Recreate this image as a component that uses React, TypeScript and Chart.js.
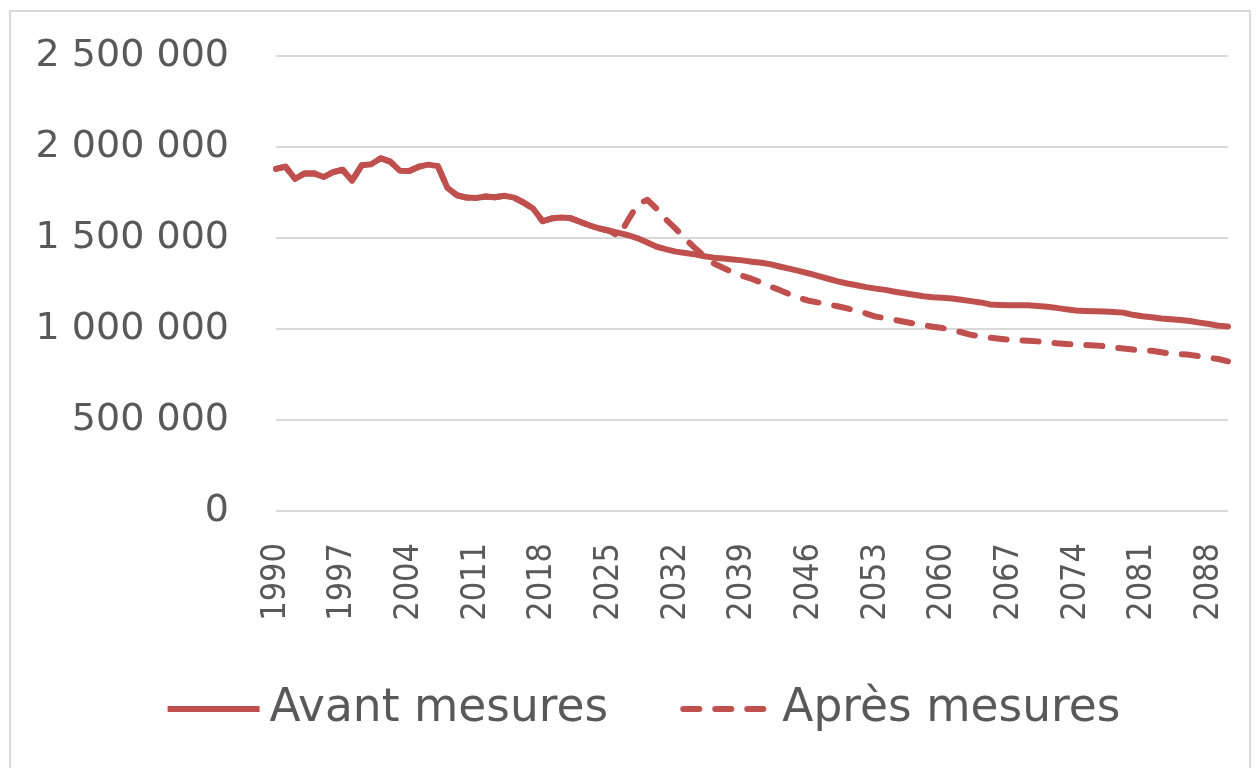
import React, { useEffect, useRef } from 'react';
import { Chart, registerables } from 'chart.js';

Chart.register(...registerables);

const years: string[] = Array.from({ length: 101 }, (_, i) => String(1990 + i));

const xTickLabels = ['1990', '1997', '2004', '2011', '2018', '2025', '2032', '2039', '2046', '2053', '2060', '2067', '2074', '2081', '2088'];

const yMin = 0;
const yMax = 2500000;
const yStep = 500000;

const seriesNames = ['Avant mesures', 'Après mesures'];

// 1990 - 2090
const avantMesures = [
  1880000, 1892000, 1825000, 1855000, 1855000, 1835000, 1862000, 1875000, 1815000, 1900000,
  1905000, 1938000, 1920000, 1870000, 1868000, 1892000, 1903000, 1895000, 1776000, 1735000,
  1722000, 1720000, 1728000, 1724000, 1732000, 1722000, 1695000, 1662000, 1592000, 1608000,
  1612000, 1608000, 1588000, 1568000, 1552000, 1540000, 1528000, 1515000, 1498000, 1475000,
  1452000, 1438000, 1425000, 1418000, 1410000, 1400000, 1392000, 1387000, 1382000, 1377000,
  1370000, 1364000, 1355000, 1342000, 1330000, 1318000, 1305000, 1290000, 1276000, 1262000,
  1250000, 1240000, 1230000, 1222000, 1215000, 1205000, 1196000, 1188000, 1180000, 1175000,
  1172000, 1168000, 1161000, 1153000, 1146000, 1135000, 1132000, 1130000, 1130000, 1130000,
  1126000, 1122000, 1116000, 1108000, 1102000, 1099000, 1097000, 1096000, 1094000, 1090000,
  1078000, 1070000, 1065000, 1058000, 1054000, 1050000, 1044000, 1035000, 1027000, 1018000,
  1014000,
];

const apresMesures = [
  1880000, 1892000, 1825000, 1855000, 1855000, 1835000, 1862000, 1875000, 1815000, 1900000,
  1905000, 1938000, 1920000, 1870000, 1868000, 1892000, 1903000, 1895000, 1776000, 1735000,
  1722000, 1720000, 1728000, 1724000, 1732000, 1722000, 1695000, 1662000, 1592000, 1608000,
  1612000, 1608000, 1588000, 1568000, 1552000, 1540000, 1510000, 1600000, 1685000, 1710000,
  1660000, 1600000, 1550000, 1495000, 1445000, 1400000, 1360000, 1335000, 1312000, 1292000,
  1275000, 1255000, 1232000, 1212000, 1190000, 1170000, 1155000, 1145000, 1135000, 1125000,
  1113000, 1100000, 1085000, 1068000, 1060000, 1050000, 1040000, 1030000, 1022000, 1012000,
  1005000, 995000, 982000, 968000, 960000, 952000, 946000, 941000, 938000, 935000,
  932000, 928000, 922000, 918000, 914000, 912000, 910000, 905000, 898000, 893000,
  887000, 880000, 880000, 872000, 865000, 862000, 858000, 850000, 842000, 835000,
  822000,
];

const Y_FONT = { family: '"DejaVu Sans", sans-serif', size: 38 };
const X_FONT = { family: '"DejaVu Sans Condensed", "DejaVu Sans", sans-serif', size: 34 };
const LEGEND_FONT = '45.5px "DejaVu Sans", sans-serif';
const TEXT_COLOR = '#595959';
const RED = '#C0504D';
const GRID = '#d9d9d9';

const fmt = (v: number) => String(Math.round(v)).replace(/\B(?=(\d{3})+(?!\d))/g, ' ');

const legendPlugin = {
  id: 'excelLegend',
  afterDraw(chart: any) {
    const ctx = chart.ctx as CanvasRenderingContext2D;
    const y = 709;
    const sample = 92;
    const gap = 10;
    const spacing = 72;
    ctx.save();
    ctx.font = LEGEND_FONT;
    const items = chart.data.datasets.map((ds: any) => ({ ds, w: ctx.measureText(ds.label).width }));
    const total = items.reduce((s: number, it: any) => s + sample + gap + it.w, 0) + spacing * (items.length - 1);
    let x = 644 - total / 2;
    items.forEach(({ ds, w }: any) => {
      ctx.beginPath();
      ctx.setLineDash(ds.borderDash || []);
      ctx.lineWidth = ds.borderWidth;
      ctx.strokeStyle = ds.borderColor;
      ctx.lineCap = ds.borderDash ? 'round' : 'butt';
      const inset = ds.borderDash ? 3 : 0;
      ctx.moveTo(x + inset, y);
      ctx.lineTo(x + sample - inset, y);
      ctx.stroke();
      ctx.setLineDash([]);
      ctx.fillStyle = TEXT_COLOR;
      ctx.textBaseline = 'middle';
      ctx.textAlign = 'left';
      ctx.fillText(ds.label, x + sample + gap, y);
      x += sample + gap + w + spacing;
    });
    ctx.restore();
  },
};

export default function App() {
  const ref = useRef<HTMLCanvasElement>(null);

  useEffect(() => {
    const chart = new Chart(ref.current as HTMLCanvasElement, {
      type: 'line',
      data: {
        labels: years,
        datasets: [
          {
            label: seriesNames[0],
            data: avantMesures,
            borderColor: RED,
            backgroundColor: RED,
            borderWidth: 6,
            pointRadius: 0,
            tension: 0,
            borderCapStyle: 'round',
            borderJoinStyle: 'round',
            fill: false,
          },
          {
            label: seriesNames[1],
            data: apresMesures,
            borderColor: RED,
            backgroundColor: RED,
            borderWidth: 6,
            borderDash: [16, 16],
            pointRadius: 0,
            tension: 0,
            borderCapStyle: 'round',
            borderJoinStyle: 'round',
            fill: false,
          },
        ],
      },
      options: {
        animation: false,
        responsive: false,
        layout: { padding: { left: 20, right: 30, top: 56, bottom: 117 } },
        plugins: {
          legend: { display: false },
          tooltip: { enabled: false },
        },
        scales: {
          x: {
            type: 'category',
            offset: false,
            grid: { display: false, drawTicks: false },
            border: { display: false },
            ticks: {
              autoSkip: false,
              maxRotation: 90,
              minRotation: 90,
              padding: 32,
              color: TEXT_COLOR,
              font: X_FONT,
              callback: (_v: any, i: number) => (xTickLabels.includes(years[i]) ? years[i] : ''),
            },
            afterFit: (s: any) => {
              s.height = 140;
              s.paddingLeft = 0;
              s.paddingRight = 0;
            },
          },
          y: {
            min: yMin,
            max: yMax,
            grid: { color: GRID, lineWidth: 2, drawTicks: false },
            border: { display: false },
            ticks: {
              stepSize: yStep,
              padding: 47,
              color: TEXT_COLOR,
              font: Y_FONT,
              callback: (v: any) => fmt(Number(v)),
            },
            afterFit: (s: any) => {
              s.width = 256;
              s.paddingTop = 0;
              s.paddingBottom = 0;
            },
          },
        },
      },
      plugins: [legendPlugin],
    });
    return () => chart.destroy();
  }, []);

  return (
    <div style={{ position: 'absolute', left: 0, top: 0, width: 1258, height: 768, overflow: 'hidden', background: '#fff' }}>
      <div
        style={{
          position: 'absolute',
          left: 9,
          top: 10,
          width: 1242,
          height: 800,
          border: `2px solid ${GRID}`,
          boxSizing: 'border-box',
        }}
      />
      <canvas ref={ref} width={1258} height={768} style={{ position: 'absolute', left: 0, top: 0, width: 1258, height: 768 }} />
    </div>
  );
}
